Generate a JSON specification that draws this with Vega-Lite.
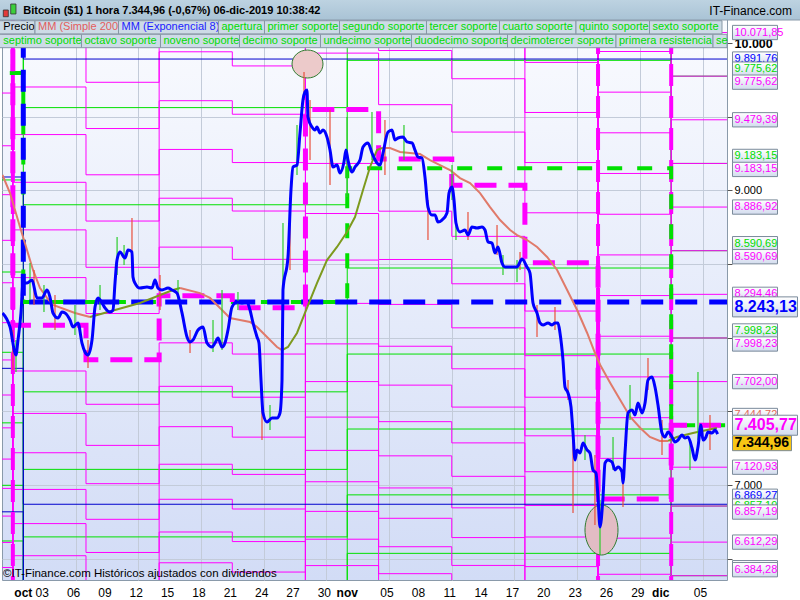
{
"$schema":"https://vega.github.io/schema/vega-lite/v6.json",
"width":725,"height":580,"autosize":"none",
"padding":{"left":2,"top":0,"right":73,"bottom":20},
"background":"#ffffff",
"view":{"fill":{"gradient":"linear","x1":0,"y1":0,"x2":0,"y2":1,"stops":[{"offset":0,"color":"#fbfcff"},{"offset":1,"color":"#d2dcf6"}]},"stroke":"#8a9aaa","strokeWidth":1},
"config":{"font":"Liberation Sans"},
"resolve":{"scale":{"color":"independent"}},
"datasets":{
"fechas":[{"t":"2019-10-01T00:00","lab":"oct","mes":true},{"t":"2019-10-03T00:00","lab":"03","mes":false},{"t":"2019-10-06T00:00","lab":"06","mes":false},{"t":"2019-10-09T00:00","lab":"09","mes":false},{"t":"2019-10-12T00:00","lab":"12","mes":false},{"t":"2019-10-15T00:00","lab":"15","mes":false},{"t":"2019-10-18T00:00","lab":"18","mes":false},{"t":"2019-10-21T00:00","lab":"21","mes":false},{"t":"2019-10-24T00:00","lab":"24","mes":false},{"t":"2019-10-27T00:00","lab":"27","mes":false},{"t":"2019-10-30T00:00","lab":"30","mes":false},{"t":"2019-11-01T00:00","lab":"nov","mes":true},{"t":"2019-11-05T00:00","lab":"05","mes":false},{"t":"2019-11-08T00:00","lab":"08","mes":false},{"t":"2019-11-11T00:00","lab":"11","mes":false},{"t":"2019-11-14T00:00","lab":"14","mes":false},{"t":"2019-11-17T00:00","lab":"17","mes":false},{"t":"2019-11-20T00:00","lab":"20","mes":false},{"t":"2019-11-23T00:00","lab":"23","mes":false},{"t":"2019-11-26T00:00","lab":"26","mes":false},{"t":"2019-11-29T00:00","lab":"29","mes":false},{"t":"2019-12-01T00:00","lab":"dic","mes":true},{"t":"2019-12-05T00:00","lab":"05","mes":false}],
"precio":[{"t":"2019-09-29T00:10","p":8168},{"t":"2019-09-29T17:30","p":8073},{"t":"2019-09-30T07:12","p":7883},{"t":"2019-09-30T11:48","p":7984},{"t":"2019-09-30T18:42","p":8168},{"t":"2019-09-30T23:18","p":8371},{"t":"2019-10-01T08:30","p":8371},{"t":"2019-10-01T20:00","p":8392},{"t":"2019-10-02T07:30","p":8270},{"t":"2019-10-02T19:00","p":8270},{"t":"2019-10-03T06:24","p":8324},{"t":"2019-10-03T13:18","p":8276},{"t":"2019-10-03T20:12","p":8168},{"t":"2019-10-04T07:42","p":8134},{"t":"2019-10-04T16:54","p":8174},{"t":"2019-10-04T23:48","p":8168},{"t":"2019-10-05T11:18","p":8120},{"t":"2019-10-05T18:06","p":8073},{"t":"2019-10-06T05:36","p":8100},{"t":"2019-10-06T14:48","p":7964},{"t":"2019-10-06T21:42","p":7903},{"t":"2019-10-07T04:36","p":7883},{"t":"2019-10-07T13:48","p":7984},{"t":"2019-10-07T20:42","p":8208},{"t":"2019-10-08T03:36","p":8270},{"t":"2019-10-08T12:42","p":8236},{"t":"2019-10-08T19:36","p":8202},{"t":"2019-10-09T07:06","p":8174},{"t":"2019-10-09T14:00","p":8188},{"t":"2019-10-09T18:36","p":8371},{"t":"2019-10-09T23:12","p":8527},{"t":"2019-10-10T06:06","p":8582},{"t":"2019-10-10T17:36","p":8541},{"t":"2019-10-11T00:30","p":8595},{"t":"2019-10-11T09:36","p":8582},{"t":"2019-10-11T11:54","p":8412},{"t":"2019-10-11T16:30","p":8371},{"t":"2019-10-12T04:00","p":8337},{"t":"2019-10-12T20:06","p":8344},{"t":"2019-10-13T07:36","p":8337},{"t":"2019-10-13T14:30","p":8392},{"t":"2019-10-13T21:24","p":8337},{"t":"2019-10-14T06:36","p":8324},{"t":"2019-10-14T20:18","p":8337},{"t":"2019-10-15T05:30","p":8324},{"t":"2019-10-15T17:00","p":8303},{"t":"2019-10-16T04:30","p":8168},{"t":"2019-10-16T16:00","p":8005},{"t":"2019-10-16T22:54","p":7971},{"t":"2019-10-17T05:42","p":7984},{"t":"2019-10-17T17:12","p":8052},{"t":"2019-10-18T04:42","p":8073},{"t":"2019-10-18T13:54","p":7964},{"t":"2019-10-19T01:24","p":7937},{"t":"2019-10-19T08:18","p":7964},{"t":"2019-10-19T15:12","p":7998},{"t":"2019-10-20T00:24","p":7937},{"t":"2019-10-20T07:12","p":7964},{"t":"2019-10-20T14:06","p":8052},{"t":"2019-10-20T23:18","p":8208},{"t":"2019-10-21T10:48","p":8242},{"t":"2019-10-21T22:18","p":8236},{"t":"2019-10-22T09:48","p":8242},{"t":"2019-10-22T16:42","p":8188},{"t":"2019-10-22T23:36","p":8100},{"t":"2019-10-23T08:48","p":8005},{"t":"2019-10-23T13:18","p":7964},{"t":"2019-10-23T17:54","p":7713},{"t":"2019-10-23T22:30","p":7489},{"t":"2019-10-24T07:42","p":7428},{"t":"2019-10-24T19:12","p":7455},{"t":"2019-10-25T06:42","p":7455},{"t":"2019-10-25T13:30","p":7489},{"t":"2019-10-25T18:12","p":7713},{"t":"2019-10-25T20:24","p":8324},{"t":"2019-10-26T07:54","p":8548},{"t":"2019-10-26T14:48","p":9003},{"t":"2019-10-26T19:24","p":9159},{"t":"2019-10-27T04:36","p":9172},{"t":"2019-10-27T11:30","p":9390},{"t":"2019-10-27T18:18","p":9614},{"t":"2019-10-27T22:54","p":9668},{"t":"2019-10-28T03:30","p":9682},{"t":"2019-10-28T05:48","p":9498},{"t":"2019-10-28T15:00","p":9430},{"t":"2019-10-28T21:54","p":9410},{"t":"2019-10-29T02:30","p":9430},{"t":"2019-10-29T09:24","p":9390},{"t":"2019-10-29T16:18","p":9410},{"t":"2019-10-30T01:30","p":9362},{"t":"2019-10-30T08:24","p":9274},{"t":"2019-10-30T15:18","p":9159},{"t":"2019-10-31T00:30","p":9172},{"t":"2019-10-31T07:24","p":9118},{"t":"2019-10-31T16:30","p":9193},{"t":"2019-10-31T21:06","p":9274},{"t":"2019-11-01T01:42","p":9206},{"t":"2019-11-01T10:54","p":9125},{"t":"2019-11-01T17:48","p":9159},{"t":"2019-11-02T05:18","p":9206},{"t":"2019-11-02T12:12","p":9295},{"t":"2019-11-02T23:36","p":9322},{"t":"2019-11-03T08:48","p":9254},{"t":"2019-11-03T20:18","p":9186},{"t":"2019-11-04T03:12","p":9172},{"t":"2019-11-04T10:06","p":9254},{"t":"2019-11-04T21:36","p":9396},{"t":"2019-11-05T06:42","p":9410},{"t":"2019-11-05T13:36","p":9342},{"t":"2019-11-05T20:30","p":9356},{"t":"2019-11-06T08:00","p":9362},{"t":"2019-11-06T17:12","p":9329},{"t":"2019-11-07T04:42","p":9322},{"t":"2019-11-07T11:36","p":9274},{"t":"2019-11-07T18:30","p":9227},{"t":"2019-11-08T03:42","p":9220},{"t":"2019-11-08T10:30","p":9091},{"t":"2019-11-08T17:24","p":8887},{"t":"2019-11-09T02:36","p":8833},{"t":"2019-11-09T09:30","p":8833},{"t":"2019-11-09T16:24","p":8786},{"t":"2019-11-10T01:36","p":8799},{"t":"2019-11-10T13:06","p":8847},{"t":"2019-11-10T17:42","p":8982},{"t":"2019-11-11T00:36","p":9023},{"t":"2019-11-11T05:12","p":8935},{"t":"2019-11-11T09:42","p":8779},{"t":"2019-11-11T18:54","p":8718},{"t":"2019-11-12T06:24","p":8731},{"t":"2019-11-12T13:18","p":8697},{"t":"2019-11-12T22:30","p":8752},{"t":"2019-11-13T10:00","p":8745},{"t":"2019-11-13T21:24","p":8752},{"t":"2019-11-14T04:18","p":8731},{"t":"2019-11-14T11:12","p":8650},{"t":"2019-11-14T20:24","p":8643},{"t":"2019-11-15T03:18","p":8575},{"t":"2019-11-15T10:12","p":8616},{"t":"2019-11-15T19:24","p":8507},{"t":"2019-11-16T02:18","p":8480},{"t":"2019-11-16T18:24","p":8480},{"t":"2019-11-17T05:54","p":8480},{"t":"2019-11-17T17:18","p":8534},{"t":"2019-11-18T04:48","p":8480},{"t":"2019-11-18T11:42","p":8439},{"t":"2019-11-18T18:36","p":8236},{"t":"2019-11-19T03:48","p":8168},{"t":"2019-11-19T10:42","p":8100},{"t":"2019-11-19T17:36","p":8086},{"t":"2019-11-20T05:06","p":8100},{"t":"2019-11-20T14:18","p":8086},{"t":"2019-11-20T21:06","p":8100},{"t":"2019-11-21T04:00","p":8100},{"t":"2019-11-21T08:36","p":8032},{"t":"2019-11-21T15:30","p":7848},{"t":"2019-11-21T20:06","p":7665},{"t":"2019-11-22T03:00","p":7625},{"t":"2019-11-22T09:54","p":7530},{"t":"2019-11-22T14:30","p":7353},{"t":"2019-11-22T19:06","p":7170},{"t":"2019-11-22T23:42","p":7238},{"t":"2019-11-23T06:36","p":7217},{"t":"2019-11-23T13:30","p":7285},{"t":"2019-11-23T22:36","p":7238},{"t":"2019-11-24T05:30","p":7217},{"t":"2019-11-24T12:24","p":7102},{"t":"2019-11-24T19:18","p":7081},{"t":"2019-11-24T23:54","p":6918},{"t":"2019-11-25T04:30","p":6715},{"t":"2019-11-25T11:24","p":6918},{"t":"2019-11-25T16:00","p":7149},{"t":"2019-11-25T22:54","p":7170},{"t":"2019-11-26T08:06","p":7156},{"t":"2019-11-26T15:00","p":7102},{"t":"2019-11-26T21:48","p":7122},{"t":"2019-11-27T07:00","p":7088},{"t":"2019-11-27T09:18","p":7014},{"t":"2019-11-27T13:54","p":7217},{"t":"2019-11-27T20:48","p":7489},{"t":"2019-11-28T06:00","p":7509},{"t":"2019-11-28T12:54","p":7475},{"t":"2019-11-28T19:48","p":7557},{"t":"2019-11-29T05:00","p":7489},{"t":"2019-11-29T11:54","p":7557},{"t":"2019-11-29T18:42","p":7713},{"t":"2019-11-30T03:54","p":7733},{"t":"2019-11-30T10:48","p":7665},{"t":"2019-11-30T17:42","p":7543},{"t":"2019-12-01T02:54","p":7353},{"t":"2019-12-01T09:48","p":7326},{"t":"2019-12-01T16:42","p":7360},{"t":"2019-12-02T01:48","p":7326},{"t":"2019-12-02T08:42","p":7292},{"t":"2019-12-02T15:36","p":7305},{"t":"2019-12-03T00:48","p":7339},{"t":"2019-12-03T07:42","p":7319},{"t":"2019-12-03T14:36","p":7326},{"t":"2019-12-03T23:48","p":7251},{"t":"2019-12-04T06:42","p":7170},{"t":"2019-12-04T13:30","p":7258},{"t":"2019-12-04T20:24","p":7407},{"t":"2019-12-05T01:00","p":7305},{"t":"2019-12-05T07:54","p":7326},{"t":"2019-12-05T12:30","p":7360},{"t":"2019-12-05T21:42","p":7353},{"t":"2019-12-06T04:36","p":7373},{"t":"2019-12-06T10:30","p":7345}],
"velas":[{"t":"2019-09-30T00:18","lo":7781,"hi":8052,"tipo":"baja"},{"t":"2019-09-30T07:12","lo":7767,"hi":7984,"tipo":"sube"},{"t":"2019-10-01T15:24","lo":8256,"hi":8507,"tipo":"sube"},{"t":"2019-10-02T00:36","lo":8222,"hi":8460,"tipo":"baja"},{"t":"2019-10-02T23:30","lo":8174,"hi":8358,"tipo":"sube"},{"t":"2019-10-04T00:48","lo":8052,"hi":8290,"tipo":"baja"},{"t":"2019-10-05T22:42","lo":8018,"hi":8222,"tipo":"sube"},{"t":"2019-10-07T04:36","lo":7794,"hi":7984,"tipo":"baja"},{"t":"2019-10-08T08:12","lo":8188,"hi":8358,"tipo":"sube"},{"t":"2019-10-09T23:24","lo":8426,"hi":8683,"tipo":"sube"},{"t":"2019-10-10T15:24","lo":8494,"hi":8629,"tipo":"sube"},{"t":"2019-10-11T09:36","lo":8541,"hi":8813,"tipo":"baja"},{"t":"2019-10-14T02:00","lo":8188,"hi":8426,"tipo":"baja"},{"t":"2019-10-15T19:18","lo":8256,"hi":8392,"tipo":"sube"},{"t":"2019-10-16T22:54","lo":7896,"hi":8052,"tipo":"baja"},{"t":"2019-10-19T03:42","lo":7903,"hi":8120,"tipo":"sube"},{"t":"2019-10-20T00:24","lo":7916,"hi":8324,"tipo":"sube"},{"t":"2019-10-21T13:00","lo":8188,"hi":8310,"tipo":"sube"},{"t":"2019-10-23T20:12","lo":7305,"hi":7611,"tipo":"baja"},{"t":"2019-10-24T14:36","lo":7373,"hi":7543,"tipo":"sube"},{"t":"2019-10-25T20:24","lo":8324,"hi":8779,"tipo":"sube"},{"t":"2019-10-26T12:30","lo":8460,"hi":8935,"tipo":"baja"},{"t":"2019-10-27T04:36","lo":9104,"hi":9444,"tipo":"sube"},{"t":"2019-10-27T20:42","lo":9614,"hi":9804,"tipo":"baja"},{"t":"2019-10-28T10:30","lo":9206,"hi":9614,"tipo":"baja"},{"t":"2019-10-30T08:24","lo":9037,"hi":9546,"tipo":"baja"},{"t":"2019-10-31T23:24","lo":8955,"hi":9498,"tipo":"sube"},{"t":"2019-11-03T08:48","lo":9206,"hi":9532,"tipo":"sube"},{"t":"2019-11-04T14:36","lo":9105,"hi":9478,"tipo":"baja"},{"t":"2019-11-06T10:18","lo":9206,"hi":9444,"tipo":"sube"},{"t":"2019-11-08T17:24","lo":8663,"hi":8935,"tipo":"baja"},{"t":"2019-11-11T00:36","lo":8935,"hi":9172,"tipo":"sube"},{"t":"2019-11-11T09:42","lo":8663,"hi":8799,"tipo":"sube"},{"t":"2019-11-12T13:18","lo":8663,"hi":8853,"tipo":"baja"},{"t":"2019-11-15T08:00","lo":8561,"hi":8765,"tipo":"baja"},{"t":"2019-11-15T21:42","lo":8426,"hi":8561,"tipo":"sube"},{"t":"2019-11-17T05:54","lo":8378,"hi":8527,"tipo":"sube"},{"t":"2019-11-17T12:48","lo":8460,"hi":8582,"tipo":"baja"},{"t":"2019-11-19T03:48","lo":8005,"hi":8222,"tipo":"baja"},{"t":"2019-11-20T21:06","lo":8052,"hi":8208,"tipo":"baja"},{"t":"2019-11-22T03:00","lo":7577,"hi":7713,"tipo":"baja"},{"t":"2019-11-22T14:30","lo":6810,"hi":7373,"tipo":"baja"},{"t":"2019-11-23T18:00","lo":7170,"hi":7339,"tipo":"sube"},{"t":"2019-11-24T16:54","lo":6728,"hi":7204,"tipo":"baja"},{"t":"2019-11-25T04:30","lo":6525,"hi":6898,"tipo":"sube"},{"t":"2019-11-26T10:24","lo":7102,"hi":7326,"tipo":"sube"},{"t":"2019-11-27T09:18","lo":6850,"hi":7102,"tipo":"baja"},{"t":"2019-11-28T01:24","lo":7441,"hi":7679,"tipo":"sube"},{"t":"2019-11-29T18:42","lo":7645,"hi":7862,"tipo":"baja"},{"t":"2019-12-01T02:54","lo":7204,"hi":7441,"tipo":"baja"},{"t":"2019-12-03T19:12","lo":7102,"hi":7305,"tipo":"sube"},{"t":"2019-12-04T13:30","lo":7305,"hi":7767,"tipo":"sube"},{"t":"2019-12-05T17:06","lo":7238,"hi":7475,"tipo":"baja"}],
"mm200":[{"t":"2019-09-29T00:10","v":9105,"tramo":1,"tendencia":"baja"},{"t":"2019-09-29T17:30","v":8982,"tramo":1,"tendencia":"baja"},{"t":"2019-09-30T16:24","v":8751,"tramo":1,"tendencia":"baja"},{"t":"2019-10-01T08:30","v":8595,"tramo":1,"tendencia":"baja"},{"t":"2019-10-01T22:18","v":8460,"tramo":1,"tendencia":"baja"},{"t":"2019-10-02T14:24","v":8337,"tramo":1,"tendencia":"baja"},{"t":"2019-10-03T06:24","v":8270,"tramo":1,"tendencia":"baja"},{"t":"2019-10-03T20:12","v":8222,"tramo":1,"tendencia":"baja"},{"t":"2019-10-05T22:42","v":8168,"tramo":1,"tendencia":"baja"},{"t":"2019-10-07T09:12","v":8141,"tramo":1,"tendencia":"baja"},
{"t":"2019-10-07T09:12","v":8141,"tramo":2,"tendencia":"sube"},{"t":"2019-10-12T04:00","v":8236,"tramo":2,"tendencia":"sube"},{"t":"2019-10-15T07:48","v":8324,"tramo":2,"tendencia":"sube"},{"t":"2019-10-16T00:00","v":8337,"tramo":2,"tendencia":"sube"},
{"t":"2019-10-16T00:00","v":8337,"tramo":3,"tendencia":"baja"},{"t":"2019-10-17T21:48","v":8303,"tramo":3,"tendencia":"baja"},{"t":"2019-10-18T20:48","v":8270,"tramo":3,"tendencia":"baja"},{"t":"2019-10-19T19:48","v":8202,"tramo":3,"tendencia":"baja"},{"t":"2019-10-20T18:42","v":8134,"tramo":3,"tendencia":"baja"},{"t":"2019-10-21T17:42","v":8120,"tramo":3,"tendencia":"baja"},{"t":"2019-10-22T16:42","v":8107,"tramo":3,"tendencia":"baja"},{"t":"2019-10-23T08:48","v":8073,"tramo":3,"tendencia":"baja"},{"t":"2019-10-24T07:42","v":8005,"tramo":3,"tendencia":"baja"},{"t":"2019-10-25T06:42","v":7937,"tramo":3,"tendencia":"baja"},{"t":"2019-10-25T18:12","v":7916,"tramo":3,"tendencia":"baja"},
{"t":"2019-10-25T18:12","v":7916,"tramo":4,"tendencia":"sube"},{"t":"2019-10-26T07:54","v":7937,"tramo":4,"tendencia":"sube"},{"t":"2019-10-27T04:36","v":8032,"tramo":4,"tendencia":"sube"},{"t":"2019-10-28T03:30","v":8202,"tramo":4,"tendencia":"sube"},{"t":"2019-10-29T02:30","v":8371,"tramo":4,"tendencia":"sube"},{"t":"2019-10-30T01:30","v":8527,"tramo":4,"tendencia":"sube"},{"t":"2019-10-31T00:30","v":8616,"tramo":4,"tendencia":"sube"},{"t":"2019-10-31T23:24","v":8718,"tramo":4,"tendencia":"sube"},{"t":"2019-11-01T17:48","v":8819,"tramo":4,"tendencia":"sube"},{"t":"2019-11-02T12:12","v":9003,"tramo":4,"tendencia":"sube"},{"t":"2019-11-03T04:18","v":9159,"tramo":4,"tendencia":"sube"},{"t":"2019-11-03T20:18","v":9274,"tramo":4,"tendencia":"sube"},{"t":"2019-11-04T07:48","v":9288,"tramo":4,"tendencia":"sube"},
{"t":"2019-11-04T07:48","v":9288,"tramo":5,"tendencia":"baja"},{"t":"2019-11-05T02:12","v":9288,"tramo":5,"tendencia":"baja"},{"t":"2019-11-06T01:12","v":9261,"tramo":5,"tendencia":"baja"},{"t":"2019-11-07T00:06","v":9254,"tramo":5,"tendencia":"baja"},{"t":"2019-11-07T23:06","v":9247,"tramo":5,"tendencia":"baja"},{"t":"2019-11-08T22:06","v":9206,"tramo":5,"tendencia":"baja"},{"t":"2019-11-09T21:06","v":9172,"tramo":5,"tendencia":"baja"},{"t":"2019-11-10T20:06","v":9138,"tramo":5,"tendencia":"baja"},{"t":"2019-11-11T19:00","v":9084,"tramo":5,"tendencia":"baja"},{"t":"2019-11-12T18:00","v":9050,"tramo":5,"tendencia":"baja"},{"t":"2019-11-13T17:00","v":8982,"tramo":5,"tendencia":"baja"},{"t":"2019-11-14T16:00","v":8887,"tramo":5,"tendencia":"baja"},{"t":"2019-11-15T15:00","v":8799,"tramo":5,"tendencia":"baja"},{"t":"2019-11-16T14:00","v":8731,"tramo":5,"tendencia":"baja"},{"t":"2019-11-17T06:00","v":8697,"tramo":5,"tendencia":"baja"},{"t":"2019-11-18T05:00","v":8663,"tramo":5,"tendencia":"baja"},{"t":"2019-11-19T04:00","v":8616,"tramo":5,"tendencia":"baja"},{"t":"2019-11-20T03:00","v":8548,"tramo":5,"tendencia":"baja"},{"t":"2019-11-21T02:00","v":8460,"tramo":5,"tendencia":"baja"},{"t":"2019-11-22T01:00","v":8324,"tramo":5,"tendencia":"baja"},{"t":"2019-11-23T00:00","v":8188,"tramo":5,"tendencia":"baja"},{"t":"2019-11-23T23:00","v":8032,"tramo":5,"tendencia":"baja"},{"t":"2019-11-24T17:00","v":7896,"tramo":5,"tendencia":"baja"},{"t":"2019-11-25T05:00","v":7815,"tramo":5,"tendencia":"baja"},{"t":"2019-11-26T04:00","v":7693,"tramo":5,"tendencia":"baja"},{"t":"2019-11-27T03:00","v":7577,"tramo":5,"tendencia":"baja"},{"t":"2019-11-28T02:00","v":7462,"tramo":5,"tendencia":"baja"},{"t":"2019-11-29T01:00","v":7387,"tramo":5,"tendencia":"baja"},{"t":"2019-11-29T23:00","v":7326,"tramo":5,"tendencia":"baja"},{"t":"2019-11-30T22:00","v":7299,"tramo":5,"tendencia":"baja"},{"t":"2019-12-01T17:00","v":7299,"tramo":5,"tendencia":"baja"},
{"t":"2019-12-01T17:00","v":7299,"tramo":6,"tendencia":"sube"},{"t":"2019-12-02T13:00","v":7326,"tramo":6,"tendencia":"sube"},{"t":"2019-12-04T02:00","v":7353,"tramo":6,"tendencia":"sube"},{"t":"2019-12-05T10:00","v":7373,"tramo":6,"tendencia":"sube"},{"t":"2019-12-06T09:00","v":7387,"tramo":6,"tendencia":"sube"}],
"semanal":[
{"t":"2019-09-28T00:00","o":10047,"u1":10449,"u2":10851,"u3":11253,"u4":11655,"u5":12056,"u6":12458,"u7":12860,"u8":13262,"u9":13664,"u10":14066,"u11":14468,"u12":14870,"d1":9661,"d2":9303,"d3":8971,"d4":8661,"d5":8373,"d6":8102,"d7":7849,"d8":7611,"d9":7388,"d10":7176,"d11":6977,"d12":6789,"d13":6610,"d14":6440,"d15":6279},
{"t":"2019-09-30T00:00","o":8085,"u1":8408,"u2":8732,"u3":9055,"u4":9379,"u5":9702,"u6":10025,"u7":10349,"u8":10672,"u9":10996,"u10":11319,"u11":11642,"u12":11966,"d1":7774,"d2":7486,"d3":7219,"d4":6970,"d5":6738,"d6":6520,"d7":6316,"d8":6125,"d9":5945,"d10":5775,"d11":5615,"d12":5463,"d13":5319,"d14":5183,"d15":5053},
{"t":"2019-10-07T00:00","o":7850,"u1":8164,"u2":8478,"u3":8792,"u4":9106,"u5":9420,"u6":9734,"u7":10048,"u8":10362,"u9":10676,"u10":10990,"u11":11304,"u12":11618,"d1":7548,"d2":7269,"d3":7009,"d4":6767,"d5":6542,"d6":6331,"d7":6133,"d8":5947,"d9":5772,"d10":5607,"d11":5451,"d12":5304,"d13":5164,"d14":5032,"d15":4906},
{"t":"2019-10-14T00:00","o":8284,"u1":8615,"u2":8947,"u3":9278,"u4":9609,"u5":9941,"u6":10272,"u7":10604,"u8":10935,"u9":11266,"u10":11598,"u11":11929,"u12":12260,"d1":7965,"d2":7670,"d3":7396,"d4":7141,"d5":6903,"d6":6681,"d7":6472,"d8":6276,"d9":6091,"d10":5917,"d11":5753,"d12":5597,"d13":5450,"d14":5310,"d15":5178},
{"t":"2019-10-21T00:00","o":8204,"u1":8532,"u2":8860,"u3":9189,"u4":9517,"u5":9845,"u6":10173,"u7":10501,"u8":10829,"u9":11157,"u10":11486,"u11":11814,"u12":12142,"d1":7889,"d2":7596,"d3":7325,"d4":7072,"d5":6837,"d6":6616,"d7":6409,"d8":6215,"d9":6032,"d10":5860,"d11":5697,"d12":5543,"d13":5397,"d14":5259,"d15":5128},
{"t":"2019-10-28T00:00","o":9550,"u1":9932,"u2":10314,"u3":10696,"u4":11078,"u5":11460,"u6":11842,"u7":12224,"u8":12606,"u9":12988,"u10":13370,"u11":13752,"u12":14134,"d1":9183,"d2":8843,"d3":8527,"d4":8233,"d5":7958,"d6":7702,"d7":7461,"d8":7235,"d9":7022,"d10":6821,"d11":6632,"d12":6453,"d13":6283,"d14":6122,"d15":5969},
{"t":"2019-11-04T00:00","o":9213,"u1":9582,"u2":9950,"u3":10319,"u4":10687,"u5":11056,"u6":11424,"u7":11793,"u8":12161,"u9":12530,"u10":12898,"u11":13267,"u12":13635,"d1":8859,"d2":8531,"d3":8226,"d4":7942,"d5":7678,"d6":7430,"d7":7198,"d8":6980,"d9":6774,"d10":6581,"d11":6398,"d12":6225,"d13":6061,"d14":5906,"d15":5758},
{"t":"2019-11-11T00:00","o":9035,"u1":9396,"u2":9758,"u3":10119,"u4":10481,"u5":10842,"u6":11203,"u7":11565,"u8":11926,"u9":12288,"u10":12649,"u11":13010,"u12":13372,"d1":8688,"d2":8366,"d3":8067,"d4":7789,"d5":7529,"d6":7286,"d7":7059,"d8":6845,"d9":6643,"d10":6454,"d11":6274,"d12":6105,"d13":5944,"d14":5792,"d15":5647},
{"t":"2019-11-18T00:00","o":8508,"u1":8848,"u2":9189,"u3":9529,"u4":9869,"u5":10210,"u6":10550,"u7":10890,"u8":11231,"u9":11571,"u10":11911,"u11":12252,"u12":12592,"d1":8181,"d2":7878,"d3":7596,"d4":7334,"d5":7090,"d6":6861,"d7":6647,"d8":6446,"d9":6256,"d10":6077,"d11":5908,"d12":5749,"d13":5597,"d14":5454,"d15":5318},
{"t":"2019-11-25T00:00","o":6905,"u1":7181,"u2":7457,"u3":7734,"u4":8010,"u5":8286,"u6":8562,"u7":8838,"u8":9115,"u9":9391,"u10":9667,"u11":9943,"u12":10219,"d1":6639,"d2":6394,"d3":6165,"d4":5953,"d5":5754,"d6":5569,"d7":5395,"d8":5231,"d9":5077,"d10":4932,"d11":4795,"d12":4666,"d13":4543,"d14":4426,"d15":4316},
{"t":"2019-12-02T00:00","o":7405.77,"u1":7702,"u2":7998.23,"u3":8294.46,"u4":8590.69,"u5":8886.92,"u6":9183.15,"u7":9479.39,"u8":9775.62,"u9":10071.85,"u10":10368.08,"u11":10664.31,"u12":10960.54,"d1":7120.93,"d2":6857.19,"d3":6612.29,"d4":6384.28,"d5":6171.48,"d6":5972.4,"d7":5785.76,"d8":5610.43,"d9":5445.42,"d10":5289.84,"d11":5142.9,"d12":5003.9,"d13":4872.22,"d14":4747.29,"d15":4628.61},
{"t":"2019-12-08T00:00","o":7405.77,"u1":7702,"u2":7998.23,"u3":8294.46,"u4":8590.69,"u5":8886.92,"u6":9183.15,"u7":9479.39,"u8":9775.62,"u9":10071.85,"u10":10368.08,"u11":10664.31,"u12":10960.54,"d1":7120.93,"d2":6857.19,"d3":6612.29,"d4":6384.28,"d5":6171.48,"d6":5972.4,"d7":5785.76,"d8":5610.43,"d9":5445.42,"d10":5289.84,"d11":5142.9,"d12":5003.9,"d13":4872.22,"d14":4747.29,"d15":4628.61}],
"mensual":[
{"t":"2019-09-01T00:00","o":9797,"gu1":10581,"gu2":11365,"gu3":12148,"gu4":12932,"gu5":13716,"gd1":9071,"gd2":8446,"gd3":7901,"gd4":7422,"gd5":6998,"gd6":6620,"gd7":6280},
{"t":"2019-10-01T00:00","o":8243.13,"gu1":8902.58,"gu2":9562.03,"gu3":10221.48,"gu4":10880.93,"gu5":11540.38,"gd1":7632.53,"gd2":7106.15,"gd3":6647.69,"gd4":6244.8,"gd5":5887.95,"gd6":5569.68,"gd7":5284.06},
{"t":"2019-11-01T00:00","o":9151,"gu1":9883,"gu2":10615,"gu3":11347,"gu4":12079,"gu5":12811,"gd1":8473,"gd2":7889,"gd3":7380,"gd4":6933,"gd5":6536,"gd6":6183,"gd7":5866},
{"t":"2019-12-02T00:00","o":7405.77,"gu1":7998.23,"gu2":8590.69,"gu3":9183.15,"gu4":9775.62,"gu5":10368.08,"gd1":6857.19,"gd2":6384.28,"gd3":5972.4,"gd4":5610.43,"gd5":5289.84,"gd6":5003.9,"gd7":4747.29},
{"t":"2019-12-08T00:00","o":7405.77,"gu1":7998.23,"gu2":8590.69,"gu3":9183.15,"gu4":9775.62,"gu5":10368.08,"gd1":6857.19,"gd2":6384.28,"gd3":5972.4,"gd4":5610.43,"gd5":5289.84,"gd6":5003.9,"gd7":4747.29}],
"trimestral":[
{"t":"2019-07-01T00:00","o":10909,"bu1":13091,"bd1":9091,"bd2":7792,"bd3":6818},
{"t":"2019-10-01T00:00","o":8243.13,"bu1":9891.76,"bd1":6869.27,"bd2":5887.95,"bd3":5151.96},
{"t":"2019-12-08T00:00","o":8243.13,"bu1":9891.76,"bd1":6869.27,"bd2":5887.95,"bd3":5151.96}],
"etiquetas":[{"v":10071.85,"txt":"10.071,85","serie":"semanal"},{"v":9891.76,"txt":"9.891,76","serie":"trimestral"},{"v":9775.62,"txt":"9.775,62","serie":"mensual"},{"v":9775.62,"txt":"9.775,62","serie":"semanal"},{"v":9479.39,"txt":"9.479,39","serie":"semanal"},{"v":9183.15,"txt":"9.183,15","serie":"mensual"},{"v":9183.15,"txt":"9.183,15","serie":"semanal"},{"v":8886.92,"txt":"8.886,92","serie":"semanal"},{"v":8590.69,"txt":"8.590,69","serie":"mensual"},{"v":8590.69,"txt":"8.590,69","serie":"semanal"},{"v":8294.46,"txt":"8.294,46","serie":"semanal"},{"v":8243.13,"txt":"8.243,13","serie":"apertura trimestral"},{"v":7998.23,"txt":"7.998,23","serie":"mensual"},{"v":7998.23,"txt":"7.998,23","serie":"semanal"},{"v":7702,"txt":"7.702,00","serie":"semanal"},{"v":7444.72,"txt":"7.444,72","serie":"mm200"},{"v":7405.77,"txt":"7.405,77","serie":"apertura semanal"},{"v":7344.96,"txt":"7.344,96","serie":"precio"},{"v":7120.93,"txt":"7.120,93","serie":"semanal"},{"v":6869.27,"txt":"6.869,27","serie":"trimestral"},{"v":6857.19,"txt":"6.857,19","serie":"mensual"},{"v":6857.19,"txt":"6.857,19","serie":"semanal"},{"v":6612.29,"txt":"6.612,29","serie":"semanal"},{"v":6384.28,"txt":"6.384,28","serie":"mensual"},{"v":6384.28,"txt":"6.384,28","serie":"semanal"}]
},
"layer":[
{"data":{"name":"mensual"},"transform":[{"fold":["gu1","gu2","gu3","gu4","gu5","gd1","gd2","gd3","gd4","gd5","gd6","gd7"],"as":["nivel","valor"]}],
 "mark":{"type":"line","interpolate":"step-after","clip":true,"color":"#00e000","strokeWidth":1},
 "encoding":{
  "x":{"field":"t","type":"temporal","scale":{"domain":[{"year":2019,"month":10,"date":1,"minutes":-2935},{"year":2019,"month":10,"date":1,"minutes":96970}]},
   "axis":{"title":null,"orient":"bottom","values":[{"year":2019,"month":10,"date":1},{"year":2019,"month":10,"date":3},{"year":2019,"month":10,"date":6},{"year":2019,"month":10,"date":9},{"year":2019,"month":10,"date":12},{"year":2019,"month":10,"date":15},{"year":2019,"month":10,"date":18},{"year":2019,"month":10,"date":21},{"year":2019,"month":10,"date":24},{"year":2019,"month":10,"date":27},{"year":2019,"month":10,"date":30},{"year":2019,"month":11,"date":2},{"year":2019,"month":11,"date":5},{"year":2019,"month":11,"date":8},{"year":2019,"month":11,"date":11},{"year":2019,"month":11,"date":14},{"year":2019,"month":11,"date":17},{"year":2019,"month":11,"date":20},{"year":2019,"month":11,"date":23},{"year":2019,"month":11,"date":26},{"year":2019,"month":11,"date":29},{"year":2019,"month":12,"date":2},{"year":2019,"month":12,"date":5}],
    "labels":false,"ticks":false,"domain":false,"grid":true,"gridColor":"#c3cbd9"}},
  "y":{"field":"valor","type":"quantitative","scale":{"domain":[6355.1,10292.6],"nice":false,"zero":false},
   "axis":{"title":null,"orient":"right","values":[6500,7000,7500,8000,8500,9000,9500,10000],"labelExpr":"(datum.value==10000 || datum.value==9000 || datum.value==7000) ? replace(format(datum.value, ','), ',', '.') : ''",
    "labelFontSize":{"condition":{"test":"datum.value==10000","value":12.5},"value":11},
    "labelFontWeight":{"condition":{"test":"datum.value==10000","value":"bold"},"value":"normal"},
    "labelColor":"#000000","labelPadding":2,"tickSize":5,"tickColor":"#555555","domain":false,"grid":true,"gridColor":"#c3cbd9","labelOverlap":false,"labelBound":false,"labelFlush":false}},
  "detail":{"field":"nivel"}}},
{"data":{"name":"semanal"},"transform":[{"fold":["u1","u2","u3","u4","u5","u6","u7","u8","u9","u10","u11","u12","d1","d2","d3","d4","d5","d6","d7","d8","d9","d10","d11","d12","d13","d14","d15"],"as":["nivel","valor"]}],
 "mark":{"type":"line","interpolate":"step-after","clip":true,"color":"#ff00ff","strokeWidth":1},
 "encoding":{"x":{"field":"t","type":"temporal"},"y":{"field":"valor","type":"quantitative"},"detail":{"field":"nivel"}}},
{"data":{"name":"trimestral"},"transform":[{"fold":["bu1","bd1","bd2","bd3"],"as":["nivel","valor"]}],
 "mark":{"type":"line","interpolate":"step-after","clip":true,"color":"#0000cd","strokeWidth":1},
 "encoding":{"x":{"field":"t","type":"temporal"},"y":{"field":"valor","type":"quantitative"},"detail":{"field":"nivel"}}},
{"data":{"values":[{"t":"2019-09-30T00:00"},{"t":"2019-11-25T00:00"},{"t":"2019-12-02T00:00"}]},
 "mark":{"type":"rule","color":"#ff00ff","strokeWidth":4,"strokeDash":[22,10],"clip":true},
 "encoding":{"x":{"field":"t","type":"temporal"}}},
{"data":{"name":"mensual"},"mark":{"type":"line","interpolate":"step-after","clip":true,"color":"#00e000","strokeWidth":4,"strokeDash":[15,15]},
 "encoding":{"x":{"field":"t","type":"temporal"},"y":{"field":"o","type":"quantitative"}}},
{"data":{"name":"trimestral"},"mark":{"type":"line","interpolate":"step-after","clip":true,"color":"#0000ff","strokeWidth":5,"strokeDash":[22,12]},
 "encoding":{"x":{"field":"t","type":"temporal"},"y":{"field":"o","type":"quantitative"}}},
{"data":{"name":"semanal"},"mark":{"type":"line","interpolate":"step-after","clip":true,"color":"#ff00ff","strokeWidth":5,"strokeDash":[22,12]},
 "encoding":{"x":{"field":"t","type":"temporal"},"y":{"field":"o","type":"quantitative"}}},
{"data":{"values":[{}]},"layer":[
 {"mark":{"type":"point","shape":"M-1,0C-1,-0.499 -0.552,-0.903 0,-0.903C0.552,-0.903 1,-0.499 1,0C1,0.499 0.552,0.903 0,0.903C-0.552,0.903 -1,0.499 -1,0Z","size":961,"filled":true,"fill":"#eccaca","stroke":"#2f7a2f","strokeWidth":1,"opacity":1},
  "encoding":{"x":{"datum":{"year":2019,"month":10,"date":1,"minutes":39163}},"y":{"datum":9858}}},
 {"mark":{"type":"point","shape":"M-0.66,0C-0.66,-0.552 -0.365,-1 0,-1C0.365,-1 0.66,-0.552 0.66,0C0.66,0.552 0.365,1 0,1C-0.365,1 -0.66,0.552 -0.66,0Z","size":2500,"filled":true,"fill":"#e2bcc4","stroke":"#2f7a2f","strokeWidth":1,"opacity":1},
  "encoding":{"x":{"datum":{"year":2019,"month":10,"date":1,"minutes":79676}},"y":{"datum":6694.5}}}]},
{"data":{"name":"mm200"},"mark":{"type":"line","strokeWidth":2,"clip":true},
 "encoding":{"x":{"field":"t","type":"temporal"},"y":{"field":"v","type":"quantitative"},"detail":{"field":"tramo"},
  "color":{"field":"tendencia","type":"nominal","scale":{"domain":["baja","sube"],"range":["#e07a6a","#7d9a1e"]},"legend":null}}},
{"data":{"name":"velas"},"mark":{"type":"rule","strokeWidth":1.2,"clip":true},
 "encoding":{"x":{"field":"t","type":"temporal"},"y":{"field":"lo","type":"quantitative"},"y2":{"field":"hi"},
  "stroke":{"field":"tipo","type":"nominal","scale":{"domain":["baja","sube"],"range":["#e8503c","#2ccc2c"]},"legend":null}}},
{"data":{"name":"precio"},"mark":{"type":"line","color":"#0000ff","strokeWidth":3,"clip":true,"interpolate":"monotone"},
 "encoding":{"x":{"field":"t","type":"temporal"},"y":{"field":"p","type":"quantitative"}}},
{"data":{"name":"fechas"},"transform":[{"filter":"datum.mes"}],"mark":{"type":"text","baseline":"middle","align":"center","fontSize":12,"fontWeight":"bold","color":"#000000"},
 "encoding":{"x":{"field":"t","type":"temporal"},"y":{"datum":6270},"text":{"field":"lab"}}},
{"data":{"name":"fechas"},"transform":[{"filter":"!datum.mes"}],"mark":{"type":"text","baseline":"middle","align":"center","dx":-2,"fontSize":12,"color":"#000000"},
 "encoding":{"x":{"field":"t","type":"temporal"},"y":{"datum":6270},"text":{"field":"lab"}}},
{"data":{"values":[{}]},"layer":[
 {"mark":{"type":"text","align":"left","baseline":"middle","fontSize":11.5,"color":"#000000"},
  "encoding":{"x":{"datum":{"year":2019,"month":10,"date":1,"minutes":-2797}},"y":{"datum":6396},"text":{"value":"©IT-Finance.com  Históricos ajustados con dividendos"}}},
 {"mark":{"type":"rect","fill":{"gradient":"linear","x1":0,"y1":0,"x2":0,"y2":1,"stops":[{"offset":0,"color":"#cddfeb"},{"offset":1,"color":"#a9c3d5"}]},"stroke":"#8a9aaa","strokeWidth":1},
  "encoding":{"x":{"datum":{"year":2019,"month":10,"date":1,"minutes":-3400}},"x2":{"datum":{"year":2019,"month":10,"date":1,"minutes":107300}},"y":{"datum":10400},"y2":{"datum":10156.8}}},
 {"mark":{"type":"rect","fill":"#e23a3a","stroke":"#333333","strokeWidth":0.8},
  "encoding":{"x":{"datum":{"year":2019,"month":10,"date":1,"minutes":-2755}},"x2":{"datum":{"year":2019,"month":10,"date":1,"minutes":-2066}},"y":{"datum":10224.7},"y2":{"datum":10179.2}}},
 {"mark":{"type":"rect","fill":"#3ccf3c","stroke":"#333333","strokeWidth":0.8},
  "encoding":{"x":{"datum":{"year":2019,"month":10,"date":1,"minutes":-1736}},"x2":{"datum":{"year":2019,"month":10,"date":1,"minutes":-1006}},"y":{"datum":10265.4},"y2":{"datum":10197.6}}},
 {"mark":{"type":"text","align":"left","baseline":"middle","fontSize":11,"fontWeight":"bold","color":"#000000"},
  "encoding":{"x":{"datum":{"year":2019,"month":10,"date":1,"minutes":0}},"y":{"datum":10218},"text":{"value":"Bitcoin ($1)   1 hora   7.344,96 (-0,67%)   06-dic-2019 10:38:42"}}},
 {"mark":{"type":"text","align":"right","baseline":"middle","fontSize":12,"color":"#000000"},
  "encoding":{"x":{"datum":{"year":2019,"month":10,"date":1,"minutes":105927}},"y":{"datum":10218},"text":{"value":"IT-Finance.com"}}}]},
{"data":{"values":[{}]},"layer":[
 {"encoding":{"x":{"datum":{"year":2019,"month":10,"date":1,"minutes":-3300}},"x2":{"datum":{"year":2019,"month":10,"date":1,"minutes":1612}},"y":{"datum":10152.1},"y2":{"datum":10061.8}},"layer":[{"mark":{"type":"rect","fill":"#cddbe6","stroke":"#8797a5","strokeWidth":1}},{"mark":{"type":"text","align":"left","baseline":"middle","dx":4,"fontSize":11,"color":"#000000"},"encoding":{"y":{"datum":10107.3},"text":{"value":"Precio"}}}]},
 {"encoding":{"x":{"datum":{"year":2019,"month":10,"date":1,"minutes":1612}},"x2":{"datum":{"year":2019,"month":10,"date":1,"minutes":13119}},"y":{"datum":10152.1},"y2":{"datum":10061.8}},"layer":[{"mark":{"type":"rect","fill":"#cddbe6","stroke":"#8797a5","strokeWidth":1}},{"mark":{"type":"text","align":"left","baseline":"middle","dx":3,"fontSize":11,"color":"#e35d5d"},"encoding":{"y":{"datum":10107.3},"text":{"value":"MM (Simple 200)"}}}]},
 {"encoding":{"x":{"datum":{"year":2019,"month":10,"date":1,"minutes":13119}},"x2":{"datum":{"year":2019,"month":10,"date":1,"minutes":26899}},"y":{"datum":10152.1},"y2":{"datum":10061.8}},"layer":[{"mark":{"type":"rect","fill":"#cddbe6","stroke":"#8797a5","strokeWidth":1}},{"mark":{"type":"text","align":"left","baseline":"middle","dx":3,"fontSize":11,"color":"#1c1cff"},"encoding":{"y":{"datum":10107.3},"text":{"value":"MM (Exponencial 8)"}}}]},
 {"encoding":{"x":{"datum":{"year":2019,"month":10,"date":1,"minutes":26899}},"x2":{"datum":{"year":2019,"month":10,"date":1,"minutes":33237}},"y":{"datum":10152.1},"y2":{"datum":10061.8}},"layer":[{"mark":{"type":"rect","fill":"#cddbe6","stroke":"#8797a5","strokeWidth":1}},{"mark":{"type":"text","align":"left","baseline":"middle","dx":3,"fontSize":11,"color":"#00dd00"},"encoding":{"y":{"datum":10107.3},"text":{"value":"apertura"}}}]},
 {"encoding":{"x":{"datum":{"year":2019,"month":10,"date":1,"minutes":33237}},"x2":{"datum":{"year":2019,"month":10,"date":1,"minutes":43572}},"y":{"datum":10152.1},"y2":{"datum":10061.8}},"layer":[{"mark":{"type":"rect","fill":"#cddbe6","stroke":"#8797a5","strokeWidth":1}},{"mark":{"type":"text","align":"left","baseline":"middle","dx":3,"fontSize":11,"color":"#00dd00"},"encoding":{"y":{"datum":10107.3},"text":{"value":"primer soporte"}}}]},
 {"encoding":{"x":{"datum":{"year":2019,"month":10,"date":1,"minutes":43572}},"x2":{"datum":{"year":2019,"month":10,"date":1,"minutes":55561}},"y":{"datum":10152.1},"y2":{"datum":10061.8}},"layer":[{"mark":{"type":"rect","fill":"#cddbe6","stroke":"#8797a5","strokeWidth":1}},{"mark":{"type":"text","align":"left","baseline":"middle","dx":3,"fontSize":11,"color":"#00dd00"},"encoding":{"y":{"datum":10107.3},"text":{"value":"segundo soporte"}}}]},
 {"encoding":{"x":{"datum":{"year":2019,"month":10,"date":1,"minutes":55561}},"x2":{"datum":{"year":2019,"month":10,"date":1,"minutes":65620}},"y":{"datum":10152.1},"y2":{"datum":10061.8}},"layer":[{"mark":{"type":"rect","fill":"#cddbe6","stroke":"#8797a5","strokeWidth":1}},{"mark":{"type":"text","align":"left","baseline":"middle","dx":3,"fontSize":11,"color":"#00dd00"},"encoding":{"y":{"datum":10107.3},"text":{"value":"tercer soporte"}}}]},
 {"encoding":{"x":{"datum":{"year":2019,"month":10,"date":1,"minutes":65620}},"x2":{"datum":{"year":2019,"month":10,"date":1,"minutes":76162}},"y":{"datum":10152.1},"y2":{"datum":10061.8}},"layer":[{"mark":{"type":"rect","fill":"#cddbe6","stroke":"#8797a5","strokeWidth":1}},{"mark":{"type":"text","align":"left","baseline":"middle","dx":3,"fontSize":11,"color":"#00dd00"},"encoding":{"y":{"datum":10107.3},"text":{"value":"cuarto soporte"}}}]},
 {"encoding":{"x":{"datum":{"year":2019,"month":10,"date":1,"minutes":76162}},"x2":{"datum":{"year":2019,"month":10,"date":1,"minutes":86290}},"y":{"datum":10152.1},"y2":{"datum":10061.8}},"layer":[{"mark":{"type":"rect","fill":"#cddbe6","stroke":"#8797a5","strokeWidth":1}},{"mark":{"type":"text","align":"left","baseline":"middle","dx":3,"fontSize":11,"color":"#00dd00"},"encoding":{"y":{"datum":10107.3},"text":{"value":"quinto soporte"}}}]},
 {"encoding":{"x":{"datum":{"year":2019,"month":10,"date":1,"minutes":86290}},"x2":{"datum":{"year":2019,"month":10,"date":1,"minutes":96281}},"y":{"datum":10152.1},"y2":{"datum":10061.8}},"layer":[{"mark":{"type":"rect","fill":"#cddbe6","stroke":"#8797a5","strokeWidth":1}},{"mark":{"type":"text","align":"left","baseline":"middle","dx":3,"fontSize":11,"color":"#00dd00"},"encoding":{"y":{"datum":10107.3},"text":{"value":"sexto soporte"}}}]},
 {"encoding":{"x":{"datum":{"year":2019,"month":10,"date":1,"minutes":-3300}},"x2":{"datum":{"year":2019,"month":10,"date":1,"minutes":8020}},"y":{"datum":10059.7},"y2":{"datum":9968.8}},"layer":[{"mark":{"type":"rect","fill":"#cddbe6","stroke":"#8797a5","strokeWidth":1}},{"mark":{"type":"text","align":"left","baseline":"middle","dx":4,"fontSize":11,"color":"#00dd00"},"encoding":{"y":{"datum":10014.3},"text":{"value":"septimo soporte"}}}]},
 {"encoding":{"x":{"datum":{"year":2019,"month":10,"date":1,"minutes":8020}},"x2":{"datum":{"year":2019,"month":10,"date":1,"minutes":18906}},"y":{"datum":10059.7},"y2":{"datum":9968.8}},"layer":[{"mark":{"type":"rect","fill":"#cddbe6","stroke":"#8797a5","strokeWidth":1}},{"mark":{"type":"text","align":"left","baseline":"middle","dx":3,"fontSize":11,"color":"#00dd00"},"encoding":{"y":{"datum":10014.3},"text":{"value":"octavo soporte"}}}]},
 {"encoding":{"x":{"datum":{"year":2019,"month":10,"date":1,"minutes":18906}},"x2":{"datum":{"year":2019,"month":10,"date":1,"minutes":29792}},"y":{"datum":10059.7},"y2":{"datum":9968.8}},"layer":[{"mark":{"type":"rect","fill":"#cddbe6","stroke":"#8797a5","strokeWidth":1}},{"mark":{"type":"text","align":"left","baseline":"middle","dx":3,"fontSize":11,"color":"#00dd00"},"encoding":{"y":{"datum":10014.3},"text":{"value":"noveno soporte"}}}]},
 {"encoding":{"x":{"datum":{"year":2019,"month":10,"date":1,"minutes":29792}},"x2":{"datum":{"year":2019,"month":10,"date":1,"minutes":40954}},"y":{"datum":10059.7},"y2":{"datum":9968.8}},"layer":[{"mark":{"type":"rect","fill":"#cddbe6","stroke":"#8797a5","strokeWidth":1}},{"mark":{"type":"text","align":"left","baseline":"middle","dx":3,"fontSize":11,"color":"#00dd00"},"encoding":{"y":{"datum":10014.3},"text":{"value":"decimo soporte"}}}]},
 {"encoding":{"x":{"datum":{"year":2019,"month":10,"date":1,"minutes":40954}},"x2":{"datum":{"year":2019,"month":10,"date":1,"minutes":53494}},"y":{"datum":10059.7},"y2":{"datum":9968.8}},"layer":[{"mark":{"type":"rect","fill":"#cddbe6","stroke":"#8797a5","strokeWidth":1}},{"mark":{"type":"text","align":"left","baseline":"middle","dx":3,"fontSize":11,"color":"#00dd00"},"encoding":{"y":{"datum":10014.3},"text":{"value":"undecimo soporte"}}}]},
 {"encoding":{"x":{"datum":{"year":2019,"month":10,"date":1,"minutes":53494}},"x2":{"datum":{"year":2019,"month":10,"date":1,"minutes":66723}},"y":{"datum":10059.7},"y2":{"datum":9968.8}},"layer":[{"mark":{"type":"rect","fill":"#cddbe6","stroke":"#8797a5","strokeWidth":1}},{"mark":{"type":"text","align":"left","baseline":"middle","dx":3,"fontSize":11,"color":"#00dd00"},"encoding":{"y":{"datum":10014.3},"text":{"value":"duodecimo soporte"}}}]},
 {"encoding":{"x":{"datum":{"year":2019,"month":10,"date":1,"minutes":66723}},"x2":{"datum":{"year":2019,"month":10,"date":1,"minutes":81674}},"y":{"datum":10059.7},"y2":{"datum":9968.8}},"layer":[{"mark":{"type":"rect","fill":"#cddbe6","stroke":"#8797a5","strokeWidth":1}},{"mark":{"type":"text","align":"left","baseline":"middle","dx":3,"fontSize":11,"color":"#00dd00"},"encoding":{"y":{"datum":10014.3},"text":{"value":"decimotercer soporte"}}}]},
 {"encoding":{"x":{"datum":{"year":2019,"month":10,"date":1,"minutes":81674}},"x2":{"datum":{"year":2019,"month":10,"date":1,"minutes":95041}},"y":{"datum":10059.7},"y2":{"datum":9968.8}},"layer":[{"mark":{"type":"rect","fill":"#cddbe6","stroke":"#8797a5","strokeWidth":1}},{"mark":{"type":"text","align":"left","baseline":"middle","dx":3,"fontSize":11,"color":"#00dd00"},"encoding":{"y":{"datum":10014.3},"text":{"value":"primera resistencia"}}}]},
 {"encoding":{"x":{"datum":{"year":2019,"month":10,"date":1,"minutes":95041}},"x2":{"datum":{"year":2019,"month":10,"date":1,"minutes":96970}},"y":{"datum":10059.7},"y2":{"datum":9968.8}},"layer":[{"mark":{"type":"rect","fill":"#cddbe6","stroke":"#8797a5","strokeWidth":1}},{"mark":{"type":"text","align":"left","baseline":"middle","dx":3,"fontSize":11,"color":"#00dd00"},"encoding":{"y":{"datum":10014.3},"text":{"value":"se"}}}]}
]},
{"data":{"name":"etiquetas"},"transform":[{"filter":{"field":"txt","equal":"9.891,76"}}],"encoding":{"y":{"field":"v","type":"quantitative"}},"layer":[
 {"mark":{"type":"point","shape":"M-1,-0.318L1,-0.318L1,0.318L-1,0.318Z","size":2025,"filled":true,"fill":{"gradient":"linear","x1":0,"y1":0,"x2":0,"y2":1,"stops":[{"offset":0,"color":"#ffffff"},{"offset":1,"color":"#d3dcee"}]},"stroke":"#7a8a9a","strokeWidth":1,"opacity":1},"encoding":{"x":{"datum":{"year":2019,"month":10,"date":1,"minutes":100828}}}},
 {"mark":{"type":"text","align":"left","baseline":"middle","dy":0,"fontSize":11,"color":"#0000ff"},"encoding":{"x":{"datum":{"year":2019,"month":10,"date":1,"minutes":98003}},"text":{"field":"txt"}}}]},
{"data":{"name":"etiquetas"},"transform":[{"filter":{"field":"txt","equal":"6.869,27"}}],"encoding":{"y":{"field":"v","type":"quantitative"}},"layer":[
 {"mark":{"type":"point","shape":"M-1,-0.674L1,-0.674L1,-0.038L-1,-0.038Z","size":2025,"filled":true,"fill":{"gradient":"linear","x1":0,"y1":0,"x2":0,"y2":1,"stops":[{"offset":0,"color":"#ffffff"},{"offset":1,"color":"#d3dcee"}]},"stroke":"#7a8a9a","strokeWidth":1,"opacity":1},"encoding":{"x":{"datum":{"year":2019,"month":10,"date":1,"minutes":100828}}}},
 {"mark":{"type":"text","align":"left","baseline":"middle","dy":-8,"fontSize":11,"color":"#0000ff"},"encoding":{"x":{"datum":{"year":2019,"month":10,"date":1,"minutes":98003}},"text":{"field":"txt"}}}]},
{"data":{"name":"etiquetas"},"transform":[{"filter":{"and":[{"field":"serie","equal":"mensual"},{"field":"v","oneOf":[9775.62,9183.15,8590.69,7998.23]}]}}],"encoding":{"y":{"field":"v","type":"quantitative"}},"layer":[
 {"mark":{"type":"point","shape":"M-1,-0.629L1,-0.629L1,0.007L-1,0.007Z","size":2025,"filled":true,"fill":{"gradient":"linear","x1":0,"y1":0,"x2":0,"y2":1,"stops":[{"offset":0,"color":"#ffffff"},{"offset":1,"color":"#d3dcee"}]},"stroke":"#7a8a9a","strokeWidth":1,"opacity":1},"encoding":{"x":{"datum":{"year":2019,"month":10,"date":1,"minutes":100828}}}},
 {"mark":{"type":"text","align":"left","baseline":"middle","dy":-7,"fontSize":11,"color":"#00dd00"},"encoding":{"x":{"datum":{"year":2019,"month":10,"date":1,"minutes":98003}},"text":{"field":"txt"}}}]},
{"data":{"name":"etiquetas"},"transform":[{"filter":{"and":[{"field":"serie","equal":"mensual"},{"field":"v","equal":6857.19}]}}],"encoding":{"y":{"field":"v","type":"quantitative"}},"layer":[
 {"mark":{"type":"point","shape":"M-1,-0.318L1,-0.318L1,0.318L-1,0.318Z","size":2025,"filled":true,"fill":{"gradient":"linear","x1":0,"y1":0,"x2":0,"y2":1,"stops":[{"offset":0,"color":"#ffffff"},{"offset":1,"color":"#d3dcee"}]},"stroke":"#7a8a9a","strokeWidth":1,"opacity":1},"encoding":{"x":{"datum":{"year":2019,"month":10,"date":1,"minutes":100828}}}},
 {"mark":{"type":"text","align":"left","baseline":"middle","dy":0,"fontSize":11,"color":"#00dd00"},"encoding":{"x":{"datum":{"year":2019,"month":10,"date":1,"minutes":98003}},"text":{"field":"txt"}}}]},
{"data":{"name":"etiquetas"},"transform":[{"filter":{"and":[{"field":"serie","equal":"mensual"},{"field":"v","equal":6384.28}]}}],"encoding":{"y":{"field":"v","type":"quantitative"}},"layer":[
 {"mark":{"type":"point","shape":"M-1,-0.674L1,-0.674L1,-0.038L-1,-0.038Z","size":2025,"filled":true,"fill":{"gradient":"linear","x1":0,"y1":0,"x2":0,"y2":1,"stops":[{"offset":0,"color":"#ffffff"},{"offset":1,"color":"#d3dcee"}]},"stroke":"#7a8a9a","strokeWidth":1,"opacity":1},"encoding":{"x":{"datum":{"year":2019,"month":10,"date":1,"minutes":100828}}}},
 {"mark":{"type":"text","align":"left","baseline":"middle","dy":-8,"fontSize":11,"color":"#00dd00"},"encoding":{"x":{"datum":{"year":2019,"month":10,"date":1,"minutes":98003}},"text":{"field":"txt"}}}]},
{"data":{"name":"etiquetas"},"transform":[{"filter":{"and":[{"field":"serie","equal":"semanal"},{"field":"v","oneOf":[10071.85,9479.39,8886.92,8294.46,7702,7120.93,6612.29]}]}}],"encoding":{"y":{"field":"v","type":"quantitative"}},"layer":[
 {"mark":{"type":"point","shape":"M-1,-0.318L1,-0.318L1,0.318L-1,0.318Z","size":2025,"filled":true,"fill":{"gradient":"linear","x1":0,"y1":0,"x2":0,"y2":1,"stops":[{"offset":0,"color":"#ffffff"},{"offset":1,"color":"#d3dcee"}]},"stroke":"#7a8a9a","strokeWidth":1,"opacity":1},"encoding":{"x":{"datum":{"year":2019,"month":10,"date":1,"minutes":100828}}}},
 {"mark":{"type":"text","align":"left","baseline":"middle","dy":0,"fontSize":11,"color":"#ff00ff"},"encoding":{"x":{"datum":{"year":2019,"month":10,"date":1,"minutes":98003}},"text":{"field":"txt"}}}]},
{"data":{"name":"etiquetas"},"transform":[{"filter":{"and":[{"field":"serie","equal":"semanal"},{"field":"v","oneOf":[9775.62,9183.15,8590.69,7998.23,6857.19]}]}}],"encoding":{"y":{"field":"v","type":"quantitative"}},"layer":[
 {"mark":{"type":"point","shape":"M-1,-0.051L1,-0.051L1,0.585L-1,0.585Z","size":2025,"filled":true,"fill":{"gradient":"linear","x1":0,"y1":0,"x2":0,"y2":1,"stops":[{"offset":0,"color":"#ffffff"},{"offset":1,"color":"#d3dcee"}]},"stroke":"#7a8a9a","strokeWidth":1,"opacity":1},"encoding":{"x":{"datum":{"year":2019,"month":10,"date":1,"minutes":100828}}}},
 {"mark":{"type":"text","align":"left","baseline":"middle","dy":6,"fontSize":11,"color":"#ff00ff"},"encoding":{"x":{"datum":{"year":2019,"month":10,"date":1,"minutes":98003}},"text":{"field":"txt"}}}]},
{"data":{"name":"etiquetas"},"transform":[{"filter":{"and":[{"field":"serie","equal":"semanal"},{"field":"v","equal":6384.28}]}}],"encoding":{"y":{"field":"v","type":"quantitative"}},"layer":[
 {"mark":{"type":"point","shape":"M-1,-0.585L1,-0.585L1,0.051L-1,0.051Z","size":2025,"filled":true,"fill":{"gradient":"linear","x1":0,"y1":0,"x2":0,"y2":1,"stops":[{"offset":0,"color":"#ffffff"},{"offset":1,"color":"#d3dcee"}]},"stroke":"#7a8a9a","strokeWidth":1,"opacity":1},"encoding":{"x":{"datum":{"year":2019,"month":10,"date":1,"minutes":100828}}}},
 {"mark":{"type":"text","align":"left","baseline":"middle","dy":-6,"fontSize":11,"color":"#ff00ff"},"encoding":{"x":{"datum":{"year":2019,"month":10,"date":1,"minutes":98003}},"text":{"field":"txt"}}}]},
{"data":{"name":"etiquetas"},"transform":[{"filter":{"field":"serie","equal":"mm200"}}],"encoding":{"y":{"field":"v","type":"quantitative"}},"layer":[
 {"mark":{"type":"point","shape":"M-1,-0.496L1,-0.496L1,0.14L-1,0.14Z","size":2025,"filled":true,"fill":{"gradient":"linear","x1":0,"y1":0,"x2":0,"y2":1,"stops":[{"offset":0,"color":"#ffffff"},{"offset":1,"color":"#d3dcee"}]},"stroke":"#7a8a9a","strokeWidth":1,"opacity":1},"encoding":{"x":{"datum":{"year":2019,"month":10,"date":1,"minutes":100828}}}},
 {"mark":{"type":"text","align":"left","baseline":"middle","dy":-4,"fontSize":11,"color":"#e06a5a"},"encoding":{"x":{"datum":{"year":2019,"month":10,"date":1,"minutes":98003}},"text":{"field":"txt"}}}]},
{"data":{"name":"etiquetas"},"transform":[{"filter":{"field":"serie","equal":"precio"}}],"encoding":{"y":{"field":"v","type":"quantitative"}},"layer":[
 {"mark":{"type":"point","shape":"M-1,0.051L1,0.051L1,0.559L-1,0.559Z","size":3481,"filled":true,"fill":"#f7c614","stroke":"#7a8a9a","strokeWidth":1,"opacity":1},"encoding":{"x":{"datum":{"year":2019,"month":10,"date":1,"minutes":101793}}}},
 {"mark":{"type":"text","align":"left","baseline":"middle","dy":9,"fontSize":14,"fontWeight":"bold","color":"#000000"},"encoding":{"x":{"datum":{"year":2019,"month":10,"date":1,"minutes":98003}},"text":{"field":"txt"}}}]},
{"data":{"name":"etiquetas"},"transform":[{"filter":{"field":"serie","equal":"apertura trimestral"}}],"encoding":{"y":{"field":"v","type":"quantitative"}},"layer":[
 {"mark":{"type":"point","shape":"M-1,-0.154L1,-0.154L1,0.462L-1,0.462Z","size":4225,"filled":true,"fill":{"gradient":"linear","x1":0,"y1":0,"x2":0,"y2":1,"stops":[{"offset":0,"color":"#ffffff"},{"offset":1,"color":"#d3dcee"}]},"stroke":"#7a8a9a","strokeWidth":1,"opacity":1},"encoding":{"x":{"datum":{"year":2019,"month":10,"date":1,"minutes":102206}}}},
 {"mark":{"type":"text","align":"left","baseline":"middle","dy":5,"fontSize":16,"fontWeight":"bold","color":"#0000ff"},"encoding":{"x":{"datum":{"year":2019,"month":10,"date":1,"minutes":98003}},"text":{"field":"txt"}}}]},
{"data":{"name":"etiquetas"},"transform":[{"filter":{"field":"serie","equal":"apertura semanal"}}],"encoding":{"y":{"field":"v","type":"quantitative"}},"layer":[
 {"mark":{"type":"point","shape":"M-1,-0.308L1,-0.308L1,0.308L-1,0.308Z","size":4225,"filled":true,"fill":{"gradient":"linear","x1":0,"y1":0,"x2":0,"y2":1,"stops":[{"offset":0,"color":"#ffffff"},{"offset":1,"color":"#d3dcee"}]},"stroke":"#7a8a9a","strokeWidth":1,"opacity":1},"encoding":{"x":{"datum":{"year":2019,"month":10,"date":1,"minutes":102206}}}},
 {"mark":{"type":"text","align":"left","baseline":"middle","dy":0,"fontSize":16,"fontWeight":"bold","color":"#ff00ff"},"encoding":{"x":{"datum":{"year":2019,"month":10,"date":1,"minutes":98003}},"text":{"field":"txt"}}}]}
]
}
